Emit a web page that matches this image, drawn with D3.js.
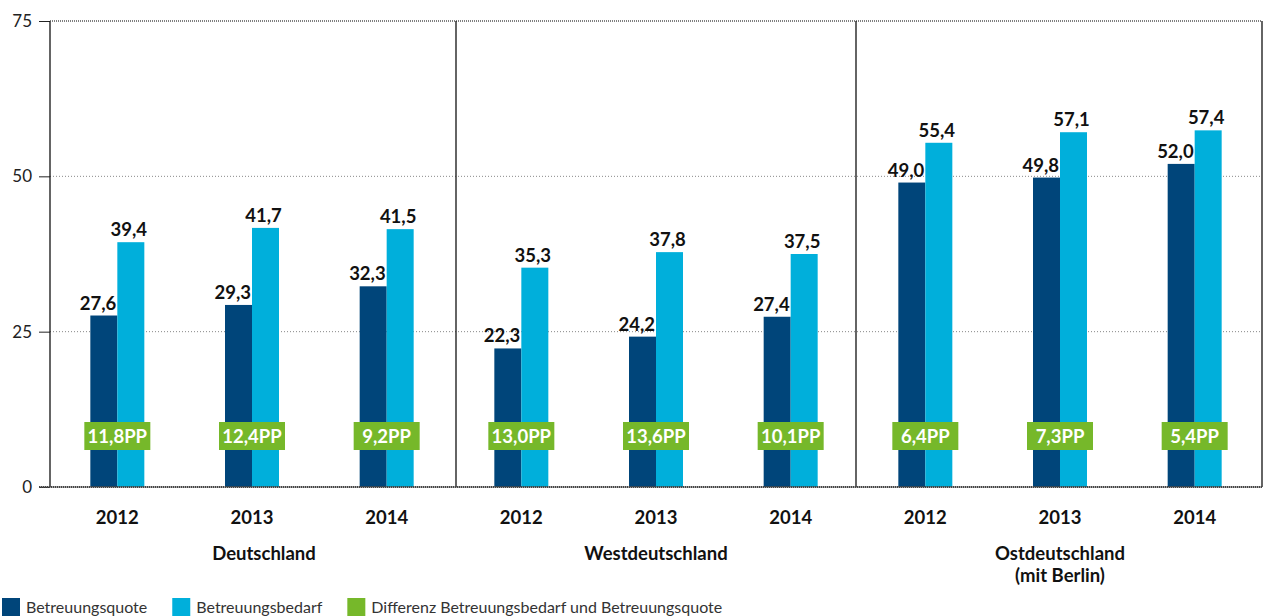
<!DOCTYPE html>
<html>
<head>
<meta charset="utf-8">
<script src="https://cdn.jsdelivr.net/npm/d3@7"></script>
<style>
  body { margin: 0; background: #fff; }
  svg { display: block; font-family: Lato, "Noto Sans", sans-serif; }
</style>
</head>
<body>
<svg id="chart" width="1264" height="616"></svg>
<script>
const regions = ["Deutschland", "Westdeutschland", "Ostdeutschland\n(mit Berlin)"];
const years = ["2012", "2013", "2014"];
const quote = [27.6, 29.3, 32.3, 22.3, 24.2, 27.4, 49.0, 49.8, 52.0];
const bedarf = [39.4, 41.7, 41.5, 35.3, 37.8, 37.5, 55.4, 57.1, 57.4];
const diffLabels = ["11,8PP", "12,4PP", "9,2PP", "13,0PP", "13,6PP", "10,1PP", "6,4PP", "7,3PP", "5,4PP"];
const yTicks = [0, 25, 50, 75];
const legendItems = [
  { name: "Betreuungsquote", color: "#00457a" },
  { name: "Betreuungsbedarf", color: "#00afdb" },
  { name: "Differenz Betreuungsbedarf und Betreuungsquote", color: "#76b82a" },
];

const svg = d3.select("#chart");
const plot = { left: 50, right: 1262, top: 21, bottom: 487 };
const fmt = v => v.toFixed(1).replace(".", ",");

const rows = [];
regions.forEach((r, i) => years.forEach((yr, j) => {
  const k = i * 3 + j;
  rows.push({ key: k, region: i, year: yr, quote: quote[k], bedarf: bedarf[k], diff: diffLabels[k] });
}));

const x = d3.scaleBand().domain(rows.map(d => d.key)).range([plot.left, plot.right]);
const y = d3.scaleLinear().domain([0, 75]).range([plot.bottom, plot.top]);
const barW = 27;

// grid lines
svg.append("g")
  .selectAll("line")
  .data([25, 50])
  .join("line")
  .attr("x1", plot.left).attr("x2", plot.right)
  .attr("y1", d => y(d)).attr("y2", d => y(d))
  .attr("stroke", "#888")
  .attr("stroke-dasharray", "1,2");

// y axis
const yAxis = svg.append("g")
  .attr("transform", `translate(${plot.left},0)`)
  .call(d3.axisLeft(y).tickValues(yTicks).tickSize(11).tickPadding(7).tickFormat(d3.format("d")));
yAxis.select(".domain").remove();
yAxis.selectAll(".tick line").attr("stroke", "#222");
yAxis.selectAll("text").attr("font-size", 17).attr("fill", "#222").attr("font-family", "Lato, sans-serif");

// frame
svg.append("line").attr("x1", plot.left).attr("x2", plot.left).attr("y1", plot.top).attr("y2", plot.bottom).attr("stroke", "#111").attr("stroke-width", 1.3);
svg.append("line").attr("x1", plot.right).attr("x2", plot.right).attr("y1", plot.top).attr("y2", plot.bottom).attr("stroke", "#111").attr("stroke-width", 1.3);
svg.append("line").attr("x1", plot.left).attr("x2", plot.right).attr("y1", y(75)).attr("y2", y(75)).attr("stroke", "#555").attr("stroke-width", 1.5).attr("stroke-dasharray", "1,1");

// separators between regions
svg.append("g")
  .selectAll("line")
  .data([3, 6])
  .join("line")
  .attr("x1", d => x(d) + (d === 3 ? 2 : -2)).attr("x2", d => x(d) + (d === 3 ? 2 : -2))
  .attr("y1", plot.top).attr("y2", plot.bottom)
  .attr("stroke", "#111").attr("stroke-width", 1.3);

const cx = d => x(d.key) + x.bandwidth() / 2;

const g = svg.append("g").selectAll("g").data(rows).join("g");

g.append("rect")
  .attr("x", d => cx(d) - barW)
  .attr("y", d => y(d.quote))
  .attr("width", barW)
  .attr("height", d => plot.bottom - y(d.quote))
  .attr("fill", legendItems[0].color);

g.append("rect")
  .attr("x", d => cx(d))
  .attr("y", d => y(d.bedarf))
  .attr("width", barW)
  .attr("height", d => plot.bottom - y(d.bedarf))
  .attr("fill", legendItems[1].color);

g.append("text")
  .attr("x", d => cx(d) - 1)
  .attr("y", d => y(d.quote) - 6)
  .attr("text-anchor", "end")
  .attr("font-size", 18.5).attr("font-weight", "bold").attr("fill", "#111")
  .text(d => fmt(d.quote));

g.append("text")
  .attr("x", d => cx(d) + barW / 2 - 2)
  .attr("y", d => y(d.bedarf) - 6)
  .attr("text-anchor", "middle")
  .attr("font-size", 18.5).attr("font-weight", "bold").attr("fill", "#111")
  .text(d => fmt(d.bedarf));

// difference boxes
g.append("rect")
  .attr("x", d => cx(d) - 33)
  .attr("y", 422)
  .attr("width", 66)
  .attr("height", 28)
  .attr("fill", legendItems[2].color);

g.append("text")
  .attr("x", d => cx(d))
  .attr("y", 443)
  .attr("text-anchor", "middle")
  .attr("font-size", 18.5).attr("font-weight", "bold").attr("fill", "#fff")
  .text(d => d.diff);

// bottom axis line
svg.append("line").attr("x1", plot.left - 11).attr("x2", plot.right).attr("y1", plot.bottom).attr("y2", plot.bottom)
  .attr("stroke", "#444").attr("stroke-width", 2).attr("stroke-dasharray", "1.5,0.5");

// year labels
g.append("text")
  .attr("x", d => cx(d))
  .attr("y", 524)
  .attr("text-anchor", "middle")
  .attr("font-size", 18.5).attr("font-weight", "bold").attr("fill", "#111")
  .text(d => d.year);

// region labels
svg.append("g")
  .selectAll("text")
  .data(regions)
  .join("text")
  .attr("x", (d, i) => cx(rows[i * 3 + 1]) + (i === 0 ? 12 : 0))
  .attr("y", 560)
  .attr("text-anchor", "middle")
  .attr("font-size", 18.5).attr("font-weight", "bold").attr("fill", "#111")
  .each(function (d) {
    d.split("\n").forEach((line, li) => {
      d3.select(this).append("tspan")
        .attr("x", d3.select(this).attr("x"))
        .attr("dy", li === 0 ? 0 : 22)
        .text(line);
    });
  });

// legend
const legend = svg.append("g").attr("transform", "translate(2,598)");
let lx = 0;
legendItems.forEach(item => {
  const it = legend.append("g").attr("transform", `translate(${lx},0)`);
  it.append("rect").attr("width", 18).attr("height", 18).attr("fill", item.color);
  const t = it.append("text").attr("x", 24).attr("y", 15)
    .attr("font-size", 16).attr("fill", "#333").text(item.name);
  lx += 24 + t.node().getComputedTextLength() + 25;
});
</script>
</body>
</html>
